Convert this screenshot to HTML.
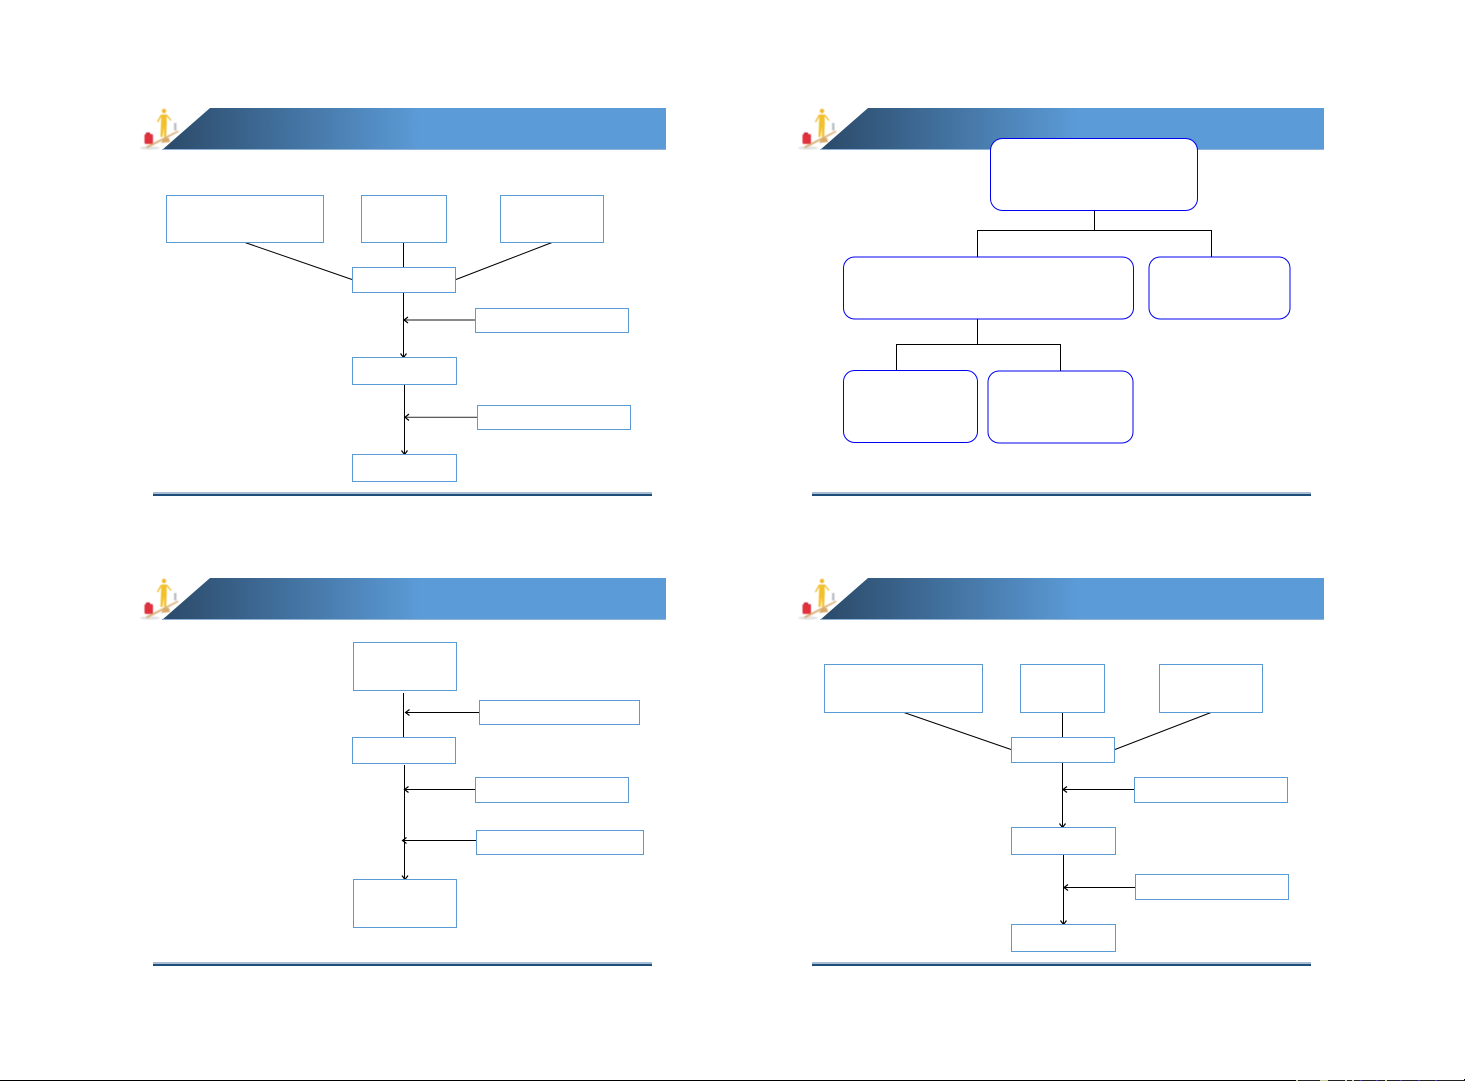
<!DOCTYPE html>
<html><head><meta charset="utf-8"><style>html,body{margin:0;padding:0;background:#fff}svg{display:block}</style></head><body>
<svg width="1465" height="1081" viewBox="0 0 1465 1081" xmlns="http://www.w3.org/2000/svg">
<defs>
<linearGradient id="g" gradientUnits="userSpaceOnUse" x1="170" y1="0" x2="420" y2="0"><stop offset="0" stop-color="#2c4c6c"/><stop offset="1" stop-color="#5b9bd7"/></linearGradient>
<filter id="b" x="-10%" y="-10%" width="120%" height="120%"><feGaussianBlur stdDeviation="0.45"/></filter>
<g id="hdr">
<polygon points="162,150 210,108 666,108 666,150" fill="url(#g)"/>
<rect x="162" y="149" width="504" height="1" fill="#8fb4d8"/>
<g filter="url(#b)">
<ellipse cx="150" cy="148" rx="10" ry="1.6" fill="#e2e2e2"/>
<polygon points="146,146.500 178,130.500 178.500,132 147,148.500" fill="#dcb27c"/>
<polygon points="161,143 164,138 169,138 170,142" fill="#d8aa68"/>
<rect x="144.500" y="134" width="8.500" height="10" rx="1.500" fill="#e0303c"/>
<rect x="146" y="132.500" width="4" height="2" fill="#c02838"/>
<circle cx="164" cy="111" r="2.200" fill="#f0b820"/>
<path d="M161.500 114.500 L166.500 114.500 L166.800 123 L166.200 137 L164 137 L164 127 L162.500 137 L160.500 137 L161 123 Z" fill="#f2c02c"/>
<path d="M161.500 115 L157.500 122 M166.500 115 L171 120.500" stroke="#eeb820" stroke-width="1.300" fill="none"/>
<rect x="174" y="123" width="2.500" height="7.500" fill="#bcc0c4"/>
</g>
</g>
<g id="foot">
<rect x="153" y="492" width="499" height="2" fill="#a9bdd4"/>
<rect x="153" y="494" width="499" height="2" fill="#1f4e79"/>
</g>
</defs>

<use href="#hdr"/><use href="#hdr" x="658"/><use href="#hdr" y="470"/><use href="#hdr" x="658" y="470"/>
<use href="#foot"/><use href="#foot" x="659"/><use href="#foot" y="470"/><use href="#foot" x="659" y="470"/>

<g id="p1">
<g stroke="#000" stroke-width="1" fill="none">
<path d="M245 242.500 L352 279.500 M403.500 243 V267 M552 242.500 L456 279.500"/>
<path d="M403.500 293 V357 M404.500 385 V454"/>
<path d="M475 320 H404" stroke="#444" stroke-width="1.300"/>
<path d="M477 417.300 H405" stroke="#444" stroke-width="1.200"/>
<path d="M408 317 L404 320 L408 323 M409 414 L405 417.300 L409 420.500 M400.500 353.500 L403.500 357.500 L406.500 353.500 M401.500 450.500 L404.500 454.500 L407.500 450.500" stroke-width="1.200"/>
</g>
<g fill="#fff" stroke="#5b9bd5" stroke-width="1">
<rect x="166.500" y="195.500" width="157" height="47"/>
<rect x="361.500" y="195.500" width="85" height="47"/>
<rect x="500.500" y="195.500" width="103" height="47"/>
<rect x="352.500" y="267.500" width="103" height="25"/>
<rect x="475.500" y="308.500" width="153" height="24"/>
<rect x="352.500" y="357.500" width="104" height="27"/>
<rect x="477.500" y="405.500" width="153" height="24"/>
<rect x="352.500" y="454.500" width="104" height="27"/>
</g>
</g>

<g>
<g stroke="#000" stroke-width="1" fill="none">
<path d="M1094.500 210 V230 M977.500 257 V230.500 H1211.500 V257 M977.500 319 V344 M896.500 370 V344.500 H1060.500 V371"/>
</g>
<g fill="#fff" stroke="#0000f0" stroke-width="1">
<rect x="990.500" y="138.500" width="207" height="72" rx="12"/>
<rect x="843.500" y="257" width="290" height="62" rx="11"/>
<rect x="1149" y="257" width="141" height="62" rx="11"/>
<rect x="843.500" y="370.500" width="134" height="72" rx="11"/>
<rect x="988" y="371" width="145" height="72" rx="11"/>
</g>
</g>

<g>
<g stroke="#000" stroke-width="1" fill="none">
<path d="M403.500 693 V737 M404.500 765 V879"/>
<path d="M479 712.500 H406 M475 789.500 H405 M476 840.500 H403"/>
<path d="M409.500 709.500 L405.500 712.500 L409.500 715.500 M408.500 786.500 L404.500 789.500 L408.500 792.500 M406.500 837.500 L402.500 840.500 L406.500 843.500 M402 875.500 L405 879.500 L408 875.500" stroke-width="1.200"/>
</g>
<g fill="#fff" stroke="#5b9bd5" stroke-width="1">
<rect x="353.500" y="642.500" width="103" height="48"/>
<rect x="479.500" y="700.500" width="160" height="24"/>
<rect x="352.500" y="737.500" width="103" height="26"/>
<rect x="475.500" y="777.500" width="153" height="25"/>
<rect x="476.500" y="830.500" width="167" height="24"/>
<rect x="353.500" y="879.500" width="103" height="48"/>
</g>
</g>

<g>
<g stroke="#000" stroke-width="1" fill="none">
<path d="M904 712.500 L1011 749.500 M1062.500 713 V737 M1211 712.500 L1115 749.500"/>
<path d="M1062.500 763 V827 M1063.500 855 V924"/>
<path d="M1134 789.500 H1063 M1135 887.500 H1064"/>
<path d="M1067 786.500 L1063 789.500 L1067 792.500 M1068 884.500 L1064 887.500 L1068 890.500 M1059.500 823.500 L1062.500 827.500 L1065.500 823.500 M1060.500 920.500 L1063.500 924.500 L1066.500 920.500" stroke-width="1.200"/>
</g>
<g fill="#fff" stroke="#5b9bd5" stroke-width="1">
<rect x="824.500" y="664.500" width="158" height="48"/>
<rect x="1020.500" y="664.500" width="84" height="48"/>
<rect x="1159.500" y="664.500" width="103" height="48"/>
<rect x="1011.500" y="737.500" width="103" height="25"/>
<rect x="1134.500" y="777.500" width="153" height="25"/>
<rect x="1011.500" y="827.500" width="104" height="27"/>
<rect x="1135.500" y="874.500" width="153" height="25"/>
<rect x="1011.500" y="924.500" width="104" height="27"/>
</g>
</g>

<rect x="0" y="1080" width="1296" height="1" fill="#000"/>
<rect x="1296" y="1080" width="169" height="1" fill="#222"/>
<path d="M1296 1080.500 h2 M1320 1080.500 h8 M1345 1080.500 h2 M1352 1080.500 h2 M1385 1080.500 h2" stroke="#c8d0a0" stroke-width="1"/>
<path d="M1360 1080.500 h2 M1376 1080.500 h2 M1400 1080.500 h2 M1418 1080.500 h2 M1435 1080.500 h2" stroke="#3838e0" stroke-width="1"/>
<rect x="1464" y="1079" width="1" height="1" fill="#000"/>
</svg>
</body></html>
